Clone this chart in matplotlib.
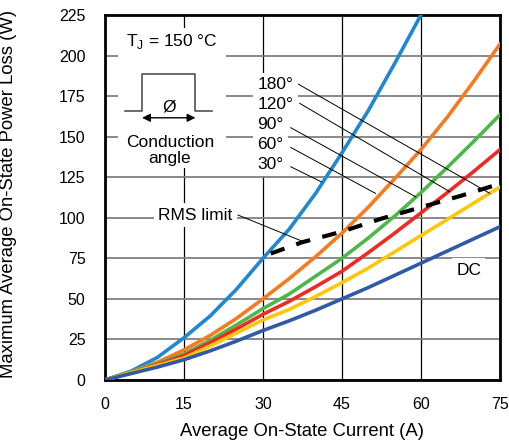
import matplotlib
matplotlib.use("Agg")
import matplotlib.pyplot as plt
from matplotlib.patches import Rectangle

plt.rcParams['font.family'] = ['Liberation Sans', 'DejaVu Sans']

# Kurven
current = [0, 5, 10, 15, 20, 25, 30, 35, 40, 45, 50, 55, 60, 65, 70, 75]
current_30 = [0, 5, 10, 15, 20, 25, 30, 35, 40, 45, 50, 55, 60]
loss_30 = [0, 5.5, 14, 26, 39.5, 56, 75, 93, 115, 140, 166, 195, 225]
loss_60 = [0, 5, 11, 18.5, 27.5, 38, 50, 62.5, 76, 90.5, 106.5, 124, 142, 162, 184, 207]
loss_90 = [0, 5, 10, 16, 24.5, 34, 44, 53, 64, 75, 87.5, 101, 115.5, 131, 147, 163.5]
loss_120 = [0, 4.5, 9.5, 15, 23, 31.5, 40.5, 48.5, 57.5, 67, 78.5, 90.5, 103, 115.5, 128.5, 142]
loss_180 = [0, 4.5, 9, 13.5, 21, 29, 37, 43.5, 51.5, 60, 69, 79, 89, 99, 109, 119]
loss_dc = [0, 4, 8, 12.5, 18, 24, 30.5, 36.5, 43, 50, 57, 64.5, 72, 79.5, 87, 94.5]

rms_current = [31.5, 37.5, 45, 52.5, 60, 67.5, 75]
rms_loss = [78, 85, 91.5, 99.5, 106.5, 113.5, 121]

angle_labels = ['180°', '120°', '90°', '60°', '30°']
xticks = [0, 15, 30, 45, 60, 75]
yticks = [0, 25, 50, 75, 100, 125, 150, 175, 200, 225]

fig = plt.figure(figsize=(5.09, 4.45), dpi=100)
ax = fig.add_axes([0.206, 0.146, 0.776, 0.820])
ax.set_xlim(0, 75)
ax.set_ylim(0, 225)
ax.set_xticks(xticks)
ax.set_yticks(yticks)
ax.tick_params(length=0, labelsize=11.5)
ax.tick_params(axis='x', pad=12)
ax.tick_params(axis='y', pad=14)
ax.xaxis.grid(True, color='black', lw=0.9, zorder=0)
ax.yaxis.grid(True, color='#808080', lw=1.3, zorder=0)
ax.set_axisbelow(True)
for sp in ax.spines.values():
    sp.set_linewidth(2)

ax.plot(current_30, loss_30, color='#1F88D2', lw=2.6, zorder=3)
ax.plot(current, loss_60, color='#F47B20', lw=2.6, zorder=3)
ax.plot(current, loss_90, color='#4DB848', lw=2.6, zorder=3)
ax.plot(current, loss_120, color='#EE2A24', lw=2.6, zorder=3)
ax.plot(current, loss_180, color='#FFC60B', lw=2.6, zorder=3)
ax.plot(current, loss_dc, color='#2E5AA8', lw=2.6, zorder=3)
ax.plot(rms_current, rms_loss, color='black', lw=3, ls=(0, (3.5, 3)), zorder=4)

# Winkel-Beschriftungen mit Hinweislinien
bbox = dict(facecolor='white', edgecolor='none', pad=3)
label_pos = [(29, 182.2), (29, 170), (29, 157.6), (29, 145.4), (29, 133)]
leaders = [((36.7, 182.5), (73.1, 115.1)),
           ((37.0, 170.6), (65.5, 116.1)),
           ((35.3, 155.6), (59.0, 113.0)),
           ((35.3, 143.4), (51.4, 115.1)),
           ((35.3, 131.5), (41.1, 122.2))]
for lab, (x, y) in zip(angle_labels, label_pos):
    ax.text(x, y, lab, fontsize=12.5, ha='left', va='center', bbox=bbox, zorder=5)
for (x0, y0), (x1, y1) in leaders:
    ax.plot([x0, x1], [y0, y1], color='black', lw=0.7, zorder=4)

ax.text(17.2, 101.7, 'RMS limit', fontsize=12.5, ha='center', va='center', bbox=bbox, zorder=5)
ax.plot([25.3, 37.7], [101.7, 85.3], color='black', lw=0.7, zorder=4)
ax.text(69.1, 67.8, 'DC', fontsize=12.5, ha='center', va='center', bbox=bbox, zorder=5)

# Einsatz: Leitwinkel
ax.add_patch(Rectangle((2.5, 131), 20.5, 86, facecolor='white', edgecolor='none', zorder=2))
ax.text(12.66, 208.7, r'T$_\mathregular{J}$ = 150 °C', fontsize=12.5, ha='center', va='center', zorder=5)
ax.plot([3.8, 7.07, 7.07, 17.2, 17.2, 20.3], [166, 166, 188.8, 188.8, 166, 166],
        color='#444444', lw=1.1, zorder=5)
ax.annotate('', xy=(7.07, 161.7), xytext=(17.2, 161.7),
            arrowprops=dict(arrowstyle='<|-|>', color='black', lw=1,
                            mutation_scale=12, shrinkA=0, shrinkB=0), zorder=5)
ax.text(12.15, 168.3, 'Ø', fontsize=12.5, ha='center', va='center', zorder=5)
ax.text(12.34, 141.3, 'Conduction\nangle', fontsize=12.5, ha='center', va='center',
        linespacing=1.1, zorder=5)

ax.set_xlabel('Average On-State Current (A)', fontsize=13.3)
ax.set_ylabel('Maximum Average On-State Power Loss (W)', fontsize=13.3)
ax.xaxis.set_label_coords(0.5, -0.118)
ax.yaxis.set_label_coords(-0.222, 0.511)

fig.savefig('out.png', dpi=100)
